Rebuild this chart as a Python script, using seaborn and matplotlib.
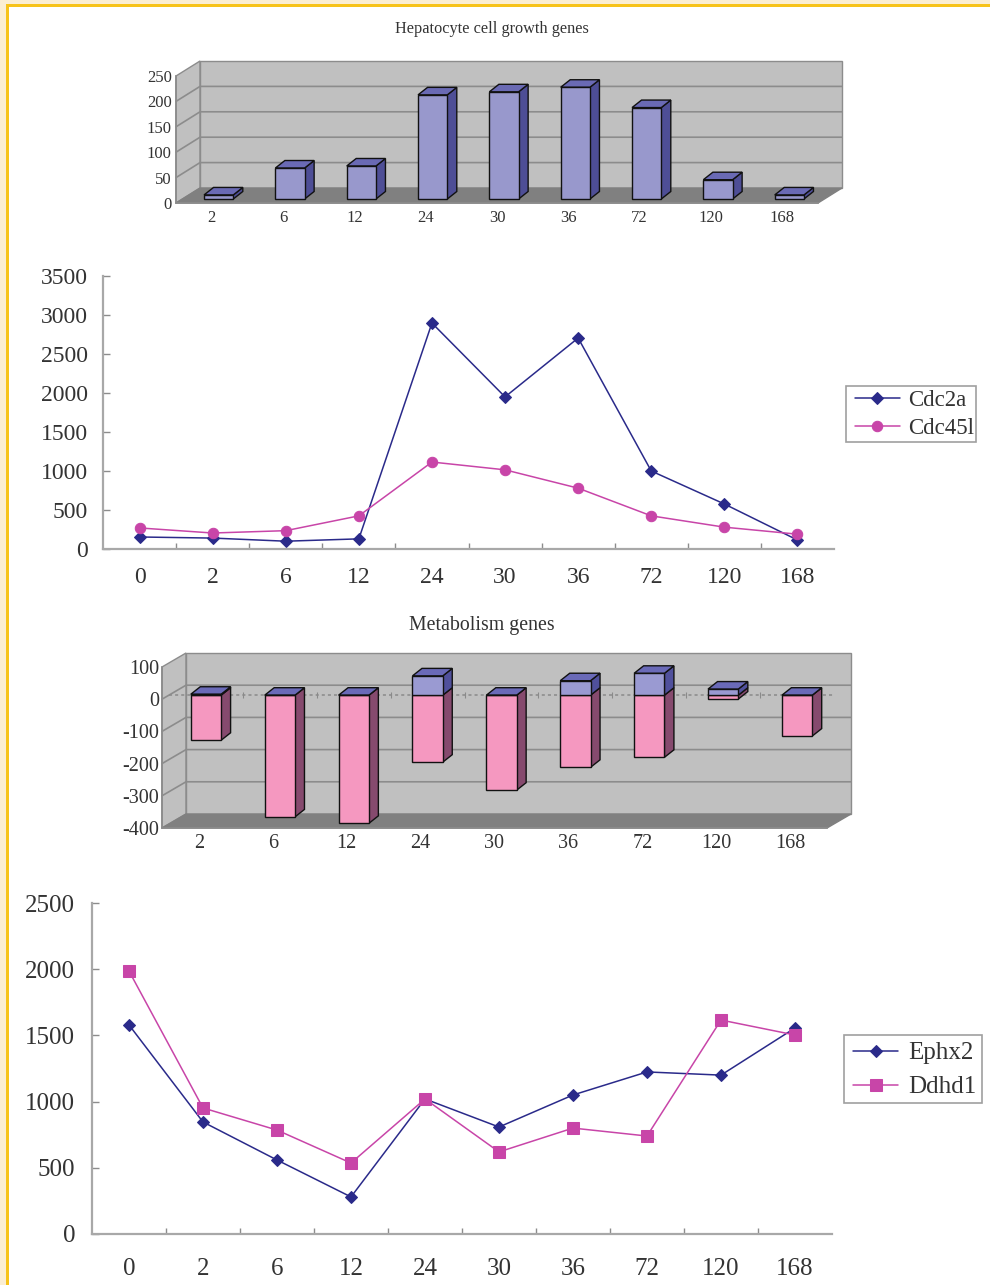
import matplotlib
matplotlib.use("Agg")
import matplotlib.pyplot as plt
import numpy as np
import pandas as pd
import seaborn as sns
from matplotlib.patches import Polygon, Rectangle
from matplotlib.transforms import ScaledTranslation

# Time points (hours)
bar_hours = ["2", "6", "12", "24", "30", "36", "72", "120", "168"]
line_hours = ["0", "2", "6", "12", "24", "30", "36", "72", "120", "168"]

# Hepatocyte cell growth genes
growth_bars = [8, 61, 65, 205, 211, 220, 180, 38, 8]
cdc2a = [154, 140, 100, 130, 2897, 1950, 2705, 1000, 577, 115]
cdc45l = [270, 205, 235, 425, 1115, 1015, 780, 425, 280, 190]

# Metabolism genes
metab_up = [3, 0, 0, 60, 0, 45, 68, 19, 0]
metab_down = [-140, -378, -398, -208, -295, -224, -193, -12, -127]
ephx2 = [1579, 846, 559, 280, 1020, 808, 1050, 1224, 1200, 1556]
ddhd1 = [1986, 952, 785, 536, 1020, 620, 800, 740, 1616, 1503]

W, H = 990, 1285
GREY = "#8c8c8c"
TEXT = "#333333"
NAVY = "#2a2a8a"
MAGENTA = "#c845a8"

sns.set_theme(style="white")
plt.rcParams["font.family"] = ["Liberation Serif", "DejaVu Serif"]
plt.rcParams["text.color"] = TEXT
plt.rcParams["axes.unicode_minus"] = False

fig = plt.figure(figsize=(W / 100, H / 100), dpi=100, facecolor="#fbeed2")
fig.patches.append(Rectangle((6 / W, 0), 1, 1 - 4 / H, transform=fig.transFigure,
                             facecolor="#f7c31a", edgecolor="none", zorder=-2))
fig.patches.append(Rectangle((9 / W, 0), 1, 1 - 7 / H, transform=fig.transFigure,
                             facecolor="white", edgecolor="none", zorder=-1))


def place(left, right, top, bottom):
    """Axes given by its pixel edges, measured from the top-left corner."""
    ax = fig.add_axes([left / W, 1 - bottom / H, (right - left) / W, (bottom - top) / H])
    ax.patch.set_alpha(0)
    return ax


def chamber(ax, ymin, ymax, ticks, depth_x, depth_y):
    """Back wall, side wall and floor of the pseudo-3D plot box."""
    x0, x1 = ax.get_xlim()
    wall = dict(facecolor="#c0c0c0", edgecolor=GREY, linewidth=1.0, clip_on=False, zorder=0.5)
    ax.add_patch(Polygon([(x0, ymin), (x0 + depth_x, ymin + depth_y),
                          (x0 + depth_x, ymax + depth_y), (x0, ymax)], **wall))
    ax.add_patch(Polygon([(x0 + depth_x, ymin + depth_y), (x1 + depth_x, ymin + depth_y),
                          (x1 + depth_x, ymax + depth_y), (x0 + depth_x, ymax + depth_y)], **wall))
    ax.add_patch(Polygon([(x0, ymin), (x1, ymin), (x1 + depth_x, ymin + depth_y),
                          (x0 + depth_x, ymin + depth_y)],
                         facecolor="#808080", edgecolor="#808080", clip_on=False, zorder=0.6))
    for t in ticks[1:-1]:
        ax.plot([x0, x0 + depth_x, x1 + depth_x], [t, t + depth_y, t + depth_y],
                color=GREY, lw=1.2, clip_on=False, zorder=0.7)


def extrude(ax, patches, shift, depth_x, depth_y, side, top, cap=True):
    """Raise seaborn's flat bars into boxes: shift the front face, add side and cap."""
    for p in patches:
        p.set_transform(ax.transData + shift)
        p.set_clip_on(False)
        p.set_zorder(3)
        x0, y0 = p.get_x(), p.get_y()
        x1, y1 = x0 + p.get_width(), y0 + p.get_height()
        lo, hi = min(y0, y1), max(y0, y1)
        style = dict(edgecolor="#111111", linewidth=1.0, clip_on=False, zorder=2.5,
                     transform=ax.transData + shift)
        ax.add_patch(Polygon([(x1, lo), (x1 + depth_x, lo + depth_y),
                              (x1 + depth_x, hi + depth_y), (x1, hi)], facecolor=side, **style))
        if cap:
            ax.add_patch(Polygon([(x0, hi), (x1, hi), (x1 + depth_x, hi + depth_y),
                                  (x0 + depth_x, hi + depth_y)], facecolor=top, **style))


def bar_panel(ax, ylim, ticks, size, pad_y, pad_x):
    ax.set_xlim(-0.5, len(bar_hours) - 0.5)
    ax.set_ylim(*ylim)
    ax.set_yticks(ticks)
    ax.set_xlabel("")
    ax.set_ylabel("")
    ax.tick_params(axis="both", length=0, colors=TEXT, labelsize=size)
    ax.tick_params(axis="y", pad=pad_y)
    ax.tick_params(axis="x", pad=pad_x)
    for name in ("top", "right"):
        ax.spines[name].set_visible(False)
    for name in ("left", "bottom"):
        ax.spines[name].set_color(GREY)
        ax.spines[name].set_zorder(1)


def line_panel(ax, ymax, step, series, size, pad_x, pad_y, frame_box, legend_at, legend_style):
    frame = pd.DataFrame({"hour": line_hours, **{k: v[0] for k, v in series.items()}})
    for name, (values, color, marker, msize) in series.items():
        sns.lineplot(data=frame, x="hour", y=name, ax=ax, color=color, marker=marker,
                     markersize=msize, markeredgecolor=color, linewidth=1.1,
                     sort=False, clip_on=False, label=name, errorbar=None)
    ax.set_xlim(-0.5, len(line_hours) - 0.5)
    ax.set_ylim(0, ymax)
    ax.set_yticks(np.arange(0, ymax + 1, step))
    ax.set_xticks(np.arange(0.5, len(line_hours) - 0.5), minor=True)
    ax.set_xlabel("")
    ax.set_ylabel("")
    ax.tick_params(axis="both", which="major", labelsize=size, colors=TEXT)
    ax.tick_params(axis="x", which="major", length=0, pad=pad_x)
    ax.tick_params(axis="x", which="minor", bottom=True, direction="in", length=4, color=GREY, width=1)
    ax.tick_params(axis="y", which="major", left=True, direction="in", length=5, color=GREY, width=1, pad=pad_y)
    for name in ("top", "right"):
        ax.spines[name].set_visible(False)
    for name in ("left", "bottom"):
        ax.spines[name].set_color("#a8a8a8")
        ax.spines[name].set_linewidth(1.6)
    # Legend entries and their box are placed separately
    left, right, top, bottom = frame_box
    fig.patches.append(Rectangle((left / W, 1 - bottom / H), (right - left) / W, (bottom - top) / H,
                                 transform=fig.transFigure, facecolor="white",
                                 edgecolor="#a0a0a0", linewidth=1.2, zorder=-0.5))
    leg = ax.legend(loc="center left",
                    bbox_to_anchor=(legend_at[0] / W, 1 - legend_at[1] / H),
                    bbox_transform=fig.transFigure, borderaxespad=0, borderpad=0,
                    frameon=False, **legend_style)
    for t in leg.get_texts():
        t.set_color(TEXT)


# Top panel: growth gene bars
ax1 = place(176, 818, 76, 203)
bar_frame = pd.DataFrame({"hour": bar_hours, "growth": growth_bars,
                          "up": metab_up, "down": metab_down})
sns.barplot(data=bar_frame, x="hour", y="growth", ax=ax1, color="#9898cc", width=0.41,
            saturation=1, edgecolor="#111111", linewidth=1.0, errorbar=None)
bar_panel(ax1, (0, 250), [0, 50, 100, 150, 200, 250], 12, 3, 5)
chamber(ax1, 0, 250, [0, 50, 100, 150, 200, 250], 24 / 71.3, 15 / 0.508)
extrude(ax1, list(ax1.patches[:len(bar_hours)]),
        ScaledTranslation(0.07, 0.04, fig.dpi_scale_trans),
        9.5 / 71.3, 7.5 / 0.508, "#4e4e96", "#6a6ab4")
fig.text(492 / W, 1 - 29 / H, "Hepatocyte cell growth genes", ha="center", va="center",
         fontsize=11.7, color=TEXT)

# Cdc2a and Cdc45l time course
ax2 = place(103, 834, 276, 549)
line_panel(ax2, 3500, 500,
           {"Cdc2a": (cdc2a, NAVY, "D", 6), "Cdc45l": (cdc45l, MAGENTA, "o", 7.5)},
           17, 13, 11, (846, 976, 386, 442), (855, 414.5),
           dict(fontsize=16.5, handlelength=1.96, handletextpad=0.35, labelspacing=0.27))

# Metabolism gene bars: positive part stacked on the negative part
ax3 = place(162, 827, 667, 828)
sns.barplot(data=bar_frame, x="hour", y="down", ax=ax3, color="#f598c0", width=0.41,
            saturation=1, edgecolor="#111111", linewidth=1.0, errorbar=None)
n_down = len(ax3.patches)
sns.barplot(data=bar_frame, x="hour", y="up", ax=ax3, color="#9a9ad2", width=0.41,
            saturation=1, edgecolor="#111111", linewidth=1.0, errorbar=None)
bars = list(ax3.patches)
bar_panel(ax3, (-400, 100), [-400, -300, -200, -100, 0, 100], 14.5, 2, 4)
chamber(ax3, -400, 100, [-400, -300, -200, -100, 0, 100], 24 / 73.9, 14 / 0.322)
shift3 = ScaledTranslation(0.07, 0.04, fig.dpi_scale_trans)
extrude(ax3, bars[:n_down], shift3, 9.5 / 73.9, 7.5 / 0.322, "#864a6e", "#6a6ab8", cap=False)
extrude(ax3, bars[n_down:], shift3, 9.5 / 73.9, 7.5 / 0.322, "#50509c", "#6a6ab8")
ax3.plot(ax3.get_xlim(), [0, 0], color="#8a8a8a", lw=1.1, ls=(0, (2, 2)), zorder=1.5,
         transform=ax3.transData + shift3, clip_on=False)
ax3.plot(np.arange(0.5, len(bar_hours) - 0.5), np.zeros(len(bar_hours) - 1), ls="none",
         marker="|", ms=4, mew=0.8, color="#8a8a8a", zorder=1.5, transform=ax3.transData + shift3)
fig.text(482 / W, 1 - 625.5 / H, "Metabolism genes", ha="center", va="center",
         fontsize=14.3, color=TEXT)

# Ephx2 and Ddhd1 time course
ax4 = place(92, 832, 903, 1234)
line_panel(ax4, 2500, 500,
           {"Ephx2": (ephx2, NAVY, "D", 6), "Ddhd1": (ddhd1, MAGENTA, "s", 8)},
           18, 17, 12, (844, 982, 1035, 1103), (853, 1070),
           dict(fontsize=18, handlelength=1.8, handletextpad=0.4, labelspacing=0.46))

fig.savefig("out.png", dpi=100, facecolor=fig.get_facecolor())
